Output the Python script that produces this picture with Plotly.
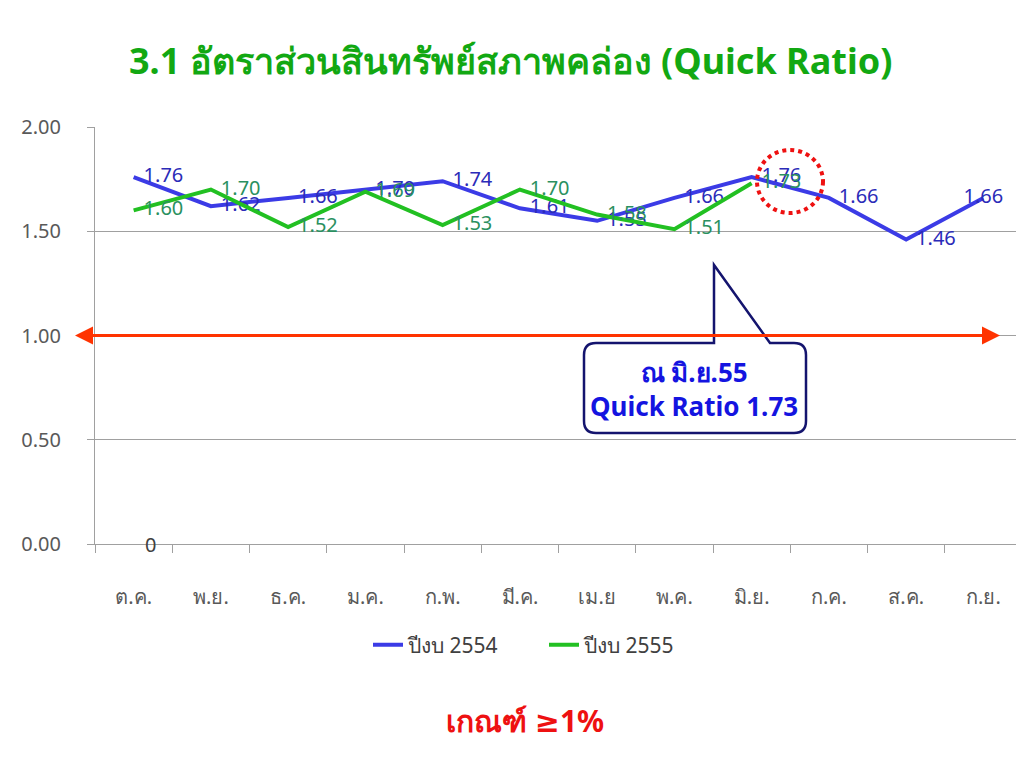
import plotly.graph_objects as go

months = ["ต.ค.", "พ.ย.", "ธ.ค.", "ม.ค.", "ก.พ.", "มี.ค.", "เม.ย", "พ.ค.", "มิ.ย.", "ก.ค.", "ส.ค.", "ก.ย."]
fy2554 = [1.76, 1.62, 1.66, 1.70, 1.74, 1.61, 1.55, 1.66, 1.76, 1.66, 1.46, 1.66]
fy2555 = [1.60, 1.70, 1.52, 1.69, 1.53, 1.70, 1.58, 1.51, 1.73]
y_ticks = [0, 0.5, 1.0, 1.5, 2.0]
threshold = 1.0

FONT = "Noto Sans, Tahoma, DejaVu Sans, sans-serif"
OFF = 8  # page body margin
W, H = 1024 - OFF, 768 - OFF
# plot area in screen pixels
L, R, T, B = 95, 1022, 127, 544


def px(x):
    return (x - L) / (R - L)


def py(y):
    return (B - y) / (B - T)


blue = "#3b3be6"
green = "#22c022"
GAP = "\u2002"

fig = go.Figure()
pos_b = ["middle right"] * (len(fy2554) - 1) + ["middle center"]
txt_b = [GAP + f"{v:.2f}" for v in fy2554[:-1]] + [f"{fy2554[-1]:.2f}"]
fig.add_trace(go.Scatter(
    x=months, y=fy2554, mode="lines+text", name="ปีงบ 2554",
    line=dict(color=blue, width=4),
    text=txt_b, textposition=pos_b,
    textfont=dict(color="#2b2bb8", size=20, family=FONT),
    cliponaxis=False,
))
fig.add_trace(go.Scatter(
    x=months[:len(fy2555)], y=fy2555, mode="lines+text", name="ปีงบ 2555",
    line=dict(color=green, width=4),
    text=[GAP + f"{v:.2f}" for v in fy2555], textposition="middle right",
    textfont=dict(color="#2a9060", size=20, family=FONT),
    cliponaxis=False,
))

# callout box path (pixel -> paper)
r = 12
x0, x1, y0, y1 = 584, 806, 343, 433
path = (
    f"M {px(x0 + r)},{py(y0)} L {px(714)},{py(y0)} L {px(714)},{py(265)} L {px(770)},{py(y0)} "
    f"L {px(x1 - r)},{py(y0)} Q {px(x1)},{py(y0)} {px(x1)},{py(y0 + r)} "
    f"L {px(x1)},{py(y1 - r)} Q {px(x1)},{py(y1)} {px(x1 - r)},{py(y1)} "
    f"L {px(x0 + r)},{py(y1)} Q {px(x0)},{py(y1)} {px(x0)},{py(y1 - r)} "
    f"L {px(x0)},{py(y0 + r)} Q {px(x0)},{py(y0)} {px(x0 + r)},{py(y0)} Z"
)
shapes = [
    dict(type="path", xref="paper", yref="paper", path=path,
         line=dict(color="#14146e", width=2.5), fillcolor="white", layer="above"),
    dict(type="circle", xref="paper", yref="paper",
         x0=px(757), x1=px(823), y0=py(213), y1=py(150),
         line=dict(color="#ee1111", width=4, dash="dot"), layer="above"),
]

annotations = [
    dict(text="<b>3.1 อัตราส่วนสินทรัพย์สภาพคล่อง (Quick Ratio)</b>", xref="paper", yref="paper",
         x=px(510), y=py(60), xanchor="center", yanchor="middle", showarrow=False,
         font=dict(size=36, color="#12a812", family=FONT)),
    dict(text="<b>ณ มิ.ย.55<br>Quick Ratio 1.73</b>", xref="paper", yref="paper",
         x=px(694), y=py(389), xanchor="center", yanchor="middle", showarrow=False, align="center",
         font=dict(size=26, color="#1414e0", family=FONT)),
    dict(text="<b>เกณฑ์ ≥1%</b>", xref="paper", yref="paper",
         x=px(525), y=py(720), xanchor="center", yanchor="middle", showarrow=False,
         font=dict(size=30, color="#ee1111", family=FONT)),
    dict(text="0", x=months[0], y=0, xref="x", yref="y", xshift=17, showarrow=False,
         font=dict(size=20, color="#404040", family=FONT)),
    # double-headed threshold arrow
    dict(text="", xref="paper", yref="y", x=px(75), y=threshold, ax=470, ay=0,
         showarrow=True, arrowhead=2, arrowsize=1.2, arrowwidth=3, arrowcolor="#ff3300"),
    dict(text="", xref="paper", yref="y", x=px(1000), y=threshold, ax=-470, ay=0,
         showarrow=True, arrowhead=2, arrowsize=1.2, arrowwidth=3, arrowcolor="#ff3300"),
]

fig.update_layout(
    width=W, height=H,
    margin=dict(l=L - OFF, r=W - (R - OFF), t=T - OFF, b=H - (B - OFF), autoexpand=False),
    paper_bgcolor="white", plot_bgcolor="white",
    font=dict(family=FONT, color="#595959", size=18),
    showlegend=True,
    legend=dict(orientation="h", x=px(368), xanchor="left", y=py(645), yanchor="middle",
                font=dict(size=21, color="#404040"), itemwidth=30, tracegroupgap=0,
                entrywidth=131, entrywidthmode="pixels"),
    shapes=shapes, annotations=annotations,
)
fig.update_xaxes(
    type="category", tickson="boundaries", ticks="outside", ticklen=8, tickcolor="#a0a0a0",
    showline=True, linecolor="#a0a0a0", showgrid=False,
    tickfont=dict(size=20, color="#595959"), range=[-0.5, 11.5], ticklabelstandoff=35,
)
fig.update_yaxes(
    range=[0, 2], tickvals=y_ticks, ticktext=[f"{v:.2f}" for v in y_ticks],
    showgrid=True, gridcolor="#a0a0a0", gridwidth=1, zeroline=False,
    showline=True, linecolor="#a0a0a0", ticks="outside", ticklen=7, tickcolor="#a0a0a0",
    tickfont=dict(size=20, color="#595959"), ticklabelstandoff=22,
)

fig.write_html("out.html")
